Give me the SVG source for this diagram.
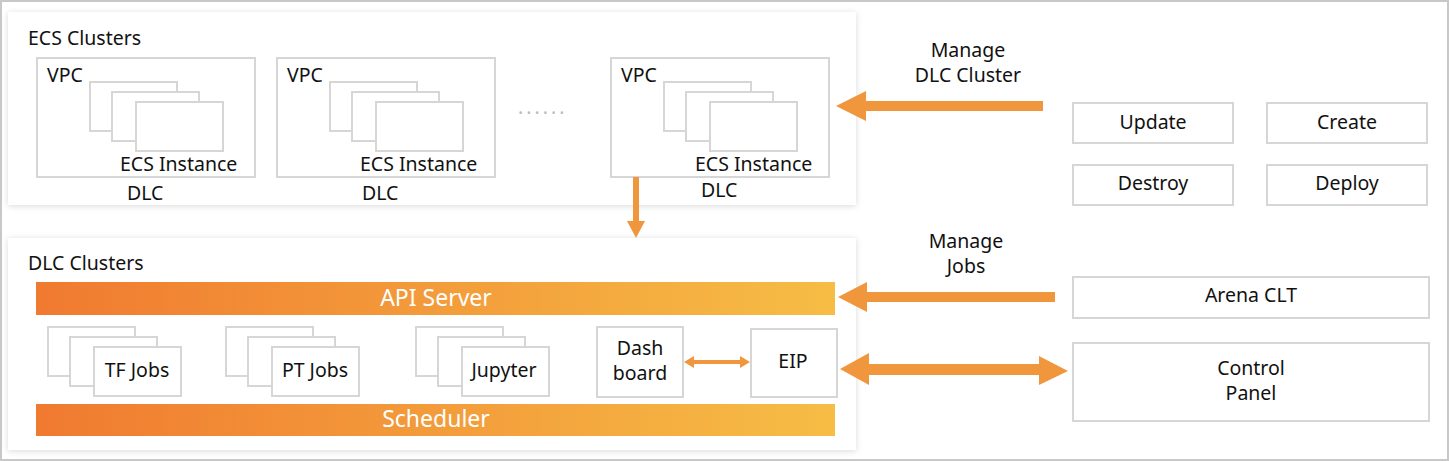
<svg xmlns="http://www.w3.org/2000/svg" width="1449" height="461" viewBox="0 0 1449 461">
<defs>
<linearGradient id="g" x1="0" x2="1"><stop offset="0" stop-color="#f07a30"/><stop offset="1" stop-color="#f6bd45"/></linearGradient>
<filter id="sh" x="-5%" y="-10%" width="110%" height="120%"><feDropShadow dx="0" dy="1" stdDeviation="3" flood-color="#000" flood-opacity="0.15"/></filter>
<g id="st" fill="#fff" stroke="#d6d6d6" stroke-width="2"><rect x="0" y="0" width="87" height="49"/><rect x="22" y="10" width="87" height="49"/><rect x="46" y="20" width="87" height="49"/></g>
</defs>
<style>
text{font-family:"Noto Sans","Open Sans","Liberation Sans",sans-serif;font-size:19.5px;fill:#111}
.b{fill:#fff;stroke:#d6d6d6;stroke-width:2}
.w{fill:#fff;font-size:23px}
.c{text-anchor:middle}
</style>
<rect x="1" y="1" width="1447" height="459" fill="#fff" stroke="#c8c8c8" stroke-width="2"/>
<g id="ecs">
<rect x="8" y="12" width="848" height="193" fill="#fff" filter="url(#sh)"/>
<text x="28" y="45">ECS Clusters</text>
<g id="vpc1"><rect class="b" x="37" y="58" width="218" height="119"/><text x="47" y="82">VPC</text><use href="#st" x="90" y="82"/><text x="120" y="171">ECS Instance</text><text x="127" y="200">DLC</text></g>
<g id="vpc2"><rect class="b" x="277" y="58" width="218" height="119"/><text x="287" y="82">VPC</text><use href="#st" x="330" y="82"/><text x="360" y="171">ECS Instance</text><text x="362" y="200">DLC</text></g>
<text x="518" y="120" style="fill:#bbb;letter-spacing:3px">······</text>
<g id="vpc3"><rect class="b" x="611" y="58" width="218" height="119"/><text x="621" y="82">VPC</text><use href="#st" x="664" y="82"/><text x="695" y="171">ECS Instance</text><text x="701" y="197">DLC</text></g>
</g>
<g id="dlc">
<rect x="8" y="238" width="848" height="212" fill="#fff" filter="url(#sh)"/>
<text x="28" y="270">DLC Clusters</text>
<g id="api"><rect x="36" y="282" width="799" height="33" fill="url(#g)"/><text class="w c" x="436" y="306">API Server</text></g>
<g id="tf"><use href="#st" x="48" y="327"/><text class="c" x="137" y="377">TF Jobs</text></g>
<g id="pt"><use href="#st" x="226" y="327"/><text class="c" x="315" y="377">PT Jobs</text></g>
<g id="jup"><use href="#st" x="416" y="327"/><text class="c" x="504" y="377">Jupyter</text></g>
<g id="dash"><rect class="b" x="597" y="327" width="86" height="70"/><text class="c" x="640" y="355">Dash</text><text class="c" x="640" y="380">board</text></g>
<g id="eip"><rect class="b" x="751" y="329" width="86" height="68"/><text class="c" x="793" y="368">EIP</text></g>
<g id="sched"><rect x="36" y="404" width="799" height="32" fill="url(#g)"/><text class="w c" x="436" y="427">Scheduler</text></g>
</g>
<g id="update"><rect class="b" x="1073" y="103" width="160" height="40"/><text class="c" x="1153" y="129">Update</text></g>
<g id="create"><rect class="b" x="1267" y="103" width="160" height="40"/><text class="c" x="1347" y="129">Create</text></g>
<g id="destroy"><rect class="b" x="1073" y="165" width="160" height="40"/><text class="c" x="1153" y="190">Destroy</text></g>
<g id="deploy"><rect class="b" x="1267" y="165" width="160" height="40"/><text class="c" x="1347" y="190">Deploy</text></g>
<g id="arena"><rect class="b" x="1073" y="277" width="356" height="41"/><text class="c" x="1251" y="302">Arena CLT</text></g>
<g id="cp"><rect class="b" x="1073" y="343" width="356" height="78"/><text class="c" x="1251" y="375">Control</text><text class="c" x="1251" y="400">Panel</text></g>
<g id="connectors" fill="#f0963c">
<rect x="866" y="101" width="177" height="10"/><polygon points="836,106 866,91 866,121"/>
<text class="c" x="968" y="57">Manage</text><text class="c" x="968" y="82">DLC Cluster</text>
<rect x="866" y="292" width="189" height="10"/><polygon points="838,297 867,282 867,312"/>
<text class="c" x="966" y="248">Manage</text><text class="c" x="966" y="273">Jobs</text>
<polygon points="840,369 869,353 869,364 1039,364 1039,356 1068,371 1039,385 1039,375 869,375 869,385"/>
<rect x="633" y="177" width="6" height="44"/><polygon points="627,221 645,221 636,238"/>
<polygon points="684,362 694,356 694,360 740,360 740,356 750,362 740,368 740,364 694,364 694,368"/>
</g>
</svg>
